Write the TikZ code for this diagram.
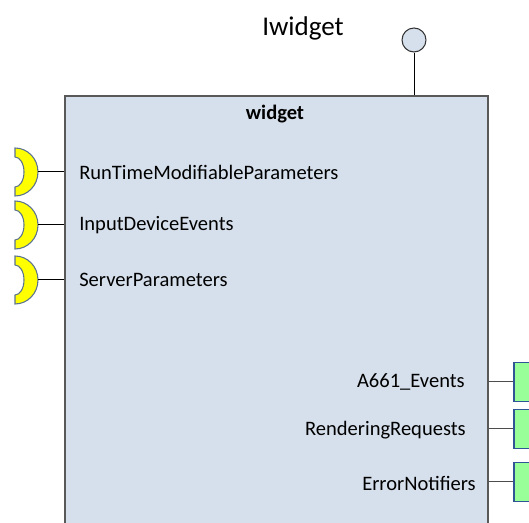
\documentclass[tikz,border=0pt]{standalone}
\usepackage{fontspec}
\setmainfont{Carlito}
\usepackage{xcolor}
\definecolor{cBox}{HTML}{D6E0EC}
\definecolor{cEdge}{HTML}{595959}
\definecolor{cSock}{HTML}{FFFF00}
\definecolor{cSockEdge}{HTML}{5A7290}
\definecolor{cPort}{HTML}{99FF99}
\definecolor{cPortEdge}{HTML}{2F5597}
\usetikzlibrary{positioning,calc}
\tikzset{
  comp-box/.style={draw=cEdge,line width=1.2pt,fill=cBox,anchor=north west,
    minimum width=423*0.75pt,minimum height=445*0.75pt,inner sep=0pt},
  comp-iface/.style={draw=black!80,line width=0.8pt,fill=cBox,circle,
    minimum size=24*0.75pt,inner sep=0pt},
  port-out/.style={draw=cPortEdge,line width=1.2pt,fill=cPort,anchor=west,
    minimum width=30*0.75pt,minimum height=39*0.75pt,inner sep=0pt},
  sock-in/.style={draw=cSockEdge,line width=0.8pt,fill=cSock},
  wire/.style={draw=black,line width=0.75pt},
  lbl-in/.style={anchor=west,font=\fontsize{15.4}{18}\selectfont,inner sep=0pt},
  lbl-out/.style={anchor=east,font=\fontsize{15.4}{18}\selectfont,inner sep=0pt},
}
\begin{document}
\begin{tikzpicture}[x=0.75pt,y=0.75pt]
  \useasboundingbox (0,0) rectangle (529,-523);
  % component and its provided interface
  \node[comp-box] (box) at (64,-95) {};
  \node[font=\fontsize{15.4}{18}\selectfont\bfseries] (name) at (275,-114) {widget};
  \node[font=\fontsize{20.3}{24}\selectfont] (title) at (303,-28) {Iwidget};
  \node[comp-iface] (iw) at (414,-40) {};
  \draw[wire] (iw.south) -- (iw |- box.north);
  % required interfaces (sockets)
  \foreach \cy/\nm/\txt in {172/s1/RunTimeModifiableParameters,
      225/s2/InputDeviceEvents,280/s3/ServerParameters}{
    \draw[sock-in] (15,-\cy+24) arc[start angle=90,end angle=-90,
        x radius=23,y radius=24]
      -- (15,-\cy-15) arc[start angle=-90,end angle=90,x radius=9,y radius=15]
      -- cycle;
    \coordinate (\nm) at (38,-\cy);
    \draw[wire] (\nm) -- (\nm -| box.west);
    \node[lbl-in] at (79,-\cy) {\txt};
  }
  % output ports
  \node[port-out] (p1) at (513,-382) {};
  \node[port-out] (p2) at (513,-429) {};
  \node[port-out] (p3) at (513,-482) {};
  \node[lbl-out] (t1) at (465,-382) {A661\_Events};
  \node[lbl-out] (t2) at (466,-430) {RenderingRequests};
  \node[lbl-out] (t3) at (476,-483) {ErrorNotifiers};
  \foreach \p in {p1,p2,p3}
    \draw[wire,draw=black!70] (box.east |- \p.west) -- (\p.west);
\end{tikzpicture}
\end{document}
